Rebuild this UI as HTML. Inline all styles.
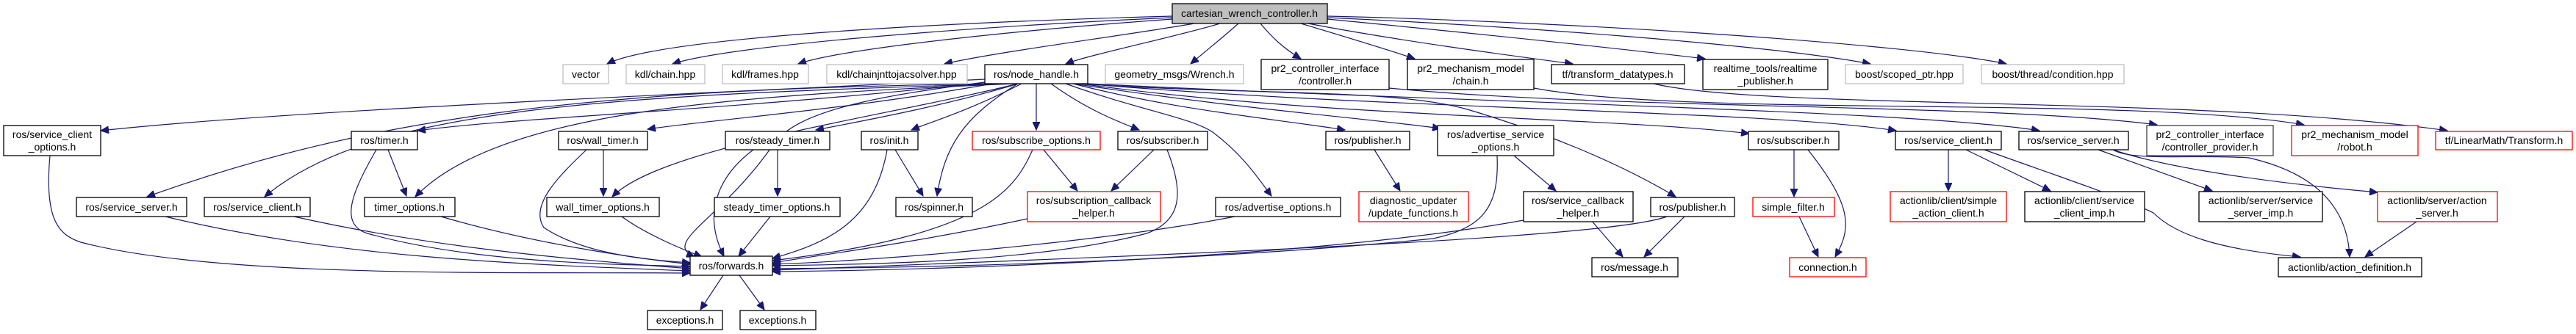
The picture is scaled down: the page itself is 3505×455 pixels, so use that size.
<!DOCTYPE html>
<html><head><meta charset="utf-8"><style>
html,body{margin:0;padding:0;background:#fff;}
svg{display:block;}
text{font-family:"Liberation Sans",sans-serif;font-size:14px;fill:#000;text-anchor:middle;}
.n{fill:#fff;stroke:#000;stroke-width:1.3;}
.g{fill:#fff;stroke:#bfbfbf;stroke-width:1.3;}
.r{fill:#fff;stroke:#ff0000;stroke-width:1.3;}
.root{fill:#bfbfbf;stroke:#000;stroke-width:1.3;}
path.e{fill:none;stroke:#191970;stroke-width:1.2;marker-end:url(#a);}
</style></head><body>
<svg width="3505" height="455" viewBox="0 0 3505 455" xmlns="http://www.w3.org/2000/svg">
<defs><marker id="a" markerUnits="userSpaceOnUse" markerWidth="12" markerHeight="10" refX="11" refY="5" orient="auto"><path d="M0,0 L11,5 L0,10 Z" fill="#191970" stroke="#191970"/></marker></defs>

<!-- edges from root -->
<path class="e" d="M1595,22 C1300,30 900,50 826,87"/>
<path class="e" d="M1595,24 C1350,35 1000,60 915,87"/>
<path class="e" d="M1595,26 C1400,40 1150,65 1086,87"/>
<path class="e" d="M1625,32 C1520,50 1360,70 1285,87"/>
<path class="e" d="M1660,32 C1600,50 1480,75 1450,87"/>
<path class="e" d="M1685,32 C1665,50 1640,70 1620,87"/>
<path class="e" d="M1715,32 C1730,50 1745,65 1770,80"/>
<path class="e" d="M1770,32 C1830,50 1880,65 1925,80"/>
<path class="e" d="M1780,32 C1900,55 2050,75 2140,87"/>
<path class="e" d="M1806,26 C1950,40 2150,60 2320,80"/>
<path class="e" d="M1806,24 C2050,35 2400,60 2545,87"/>
<path class="e" d="M1806,22 C2150,30 2600,60 2730,87"/>

<!-- node_handle edges -->
<path class="e" d="M1340,108 C900,130 400,150 137,178"/>
<path class="e" d="M1345,112 C1000,150 700,160 568,178"/>
<path class="e" d="M1350,114 C1150,150 950,165 881,176"/>
<path class="e" d="M1370,114 C800,120 500,160 200,268"/>
<path class="e" d="M1375,114 C800,130 500,150 360,268"/>
<path class="e" d="M1380,114 C1000,130 680,150 565,268"/>
<path class="e" d="M1385,114 C1200,160 900,200 833,268"/>
<path class="e" d="M1385,114 C1300,140 1200,160 1110,177"/>
<path class="e" d="M1390,114 C1320,150 1270,165 1240,177"/>
<path class="e" d="M1385,114 C1310,160 1285,200 1275,267"/>
<path class="e" d="M1410,114 L1410,177"/>
<path class="e" d="M1430,114 C1480,150 1520,165 1550,177"/>
<path class="e" d="M1450,114 C1550,150 1620,160 1650,180 C1690,210 1710,240 1730,267"/>
<path class="e" d="M1460,114 C1600,150 1720,160 1830,177"/>
<path class="e" d="M1460,114 C1700,150 1850,160 1960,175"/>
<path class="e" d="M1340,112 C1200,130 1080,150 1050,200 C980,300 900,330 945,350"/>
<path class="e" d="M1470,114 C1700,130 1900,120 2000,150 C2100,180 2200,220 2280,268"/>
<path class="e" d="M1470,114 C1800,160 2200,160 2380,182"/>
<path class="e" d="M1475,114 C1900,150 2400,150 2580,178"/>
<path class="e" d="M1480,114 C2000,140 2600,150 2775,178"/>
<!-- from controller/chain/tf -->
<path class="e" d="M1890,120 C2200,150 2700,140 2935,170"/>
<path class="e" d="M2087,120 C2300,160 2900,130 3135,170"/>
<path class="e" d="M2250,114 C2400,150 3000,130 3330,178"/>

<!-- level 2 -> forwards -->
<path class="e" d="M68,212 C60,300 80,320 110,330 C300,380 700,370 939,372"/>
<path class="e" d="M225,295 C450,350 700,360 939,369"/>
<path class="e" d="M400,295 C600,340 800,355 939,366"/>
<path class="e" d="M512,204 C480,260 460,305 500,318 C650,360 850,360 939,363"/>
<path class="e" d="M528,204 L553,267"/>
<path class="e" d="M600,295 C720,330 850,350 939,360"/>
<path class="e" d="M798,204 C760,240 720,280 740,310 C800,350 900,355 939,358"/>
<path class="e" d="M821,204 L821,267"/>
<path class="e" d="M846,295 C880,320 930,340 955,350"/>
<path class="e" d="M1025,204 C990,230 950,280 985,349"/>
<path class="e" d="M1058,204 L1058,267"/>
<path class="e" d="M1048,295 L1005,349"/>
<path class="e" d="M1207,204 C1190,300 1130,330 1051,352"/>
<path class="e" d="M1218,204 L1256,267"/>
<path class="e" d="M1405,204 C1380,260 1340,320 1051,355"/>
<path class="e" d="M1420,204 L1466,260"/>
<path class="e" d="M1570,204 L1512,260"/>
<path class="e" d="M1588,204 C1610,260 1610,300 1560,318 C1400,360 1150,360 1051,362"/>
<path class="e" d="M1398,298 C1250,330 1100,350 1051,358"/>
<path class="e" d="M1680,295 C1500,330 1200,355 1051,360"/>
<path class="e" d="M2037,212 C2040,280 2020,310 1950,325 C1600,360 1200,365 1051,366"/>
<path class="e" d="M2060,212 L2117,260"/>
<path class="e" d="M2073,300 C1800,350 1300,368 1051,370"/>
<path class="e" d="M2165,300 L2208,350"/>
<path class="e" d="M1870,204 L1905,260"/>
<path class="e" d="M2268,295 C2200,320 1800,340 1051,368"/>
<path class="e" d="M2292,295 L2237,350"/>
<path class="e" d="M2441,204 L2441,268"/>
<path class="e" d="M2460,204 C2520,280 2520,310 2497,350"/>
<path class="e" d="M2448,295 L2474,350"/>
<path class="e" d="M2651,204 L2651,260"/>
<path class="e" d="M2675,204 L2790,260"/>
<path class="e" d="M2700,204 C2800,240 2890,270 2930,290 C2960,320 3020,340 3130,350"/>
<path class="e" d="M2855,204 L3010,260"/>
<path class="e" d="M2875,204 C2950,230 3100,250 3235,262"/>
<path class="e" d="M2875,204 C2900,220 2990,210 3060,215 C3170,240 3195,300 3197,350"/>
<path class="e" d="M3288,302 L3218,350"/>
<!-- forwards -> exceptions -->
<path class="e" d="M984,375 L953,422"/>
<path class="e" d="M1006,375 L1040,422"/>

<!-- nodes -->
<rect class="root" x="1595" y="5" width="211" height="27"/><text x="1700" y="23">cartesian_wrench_controller.h</text>
<rect class="g" x="766" y="88" width="62" height="26"/><text x="797" y="106">vector</text>
<rect class="g" x="852" y="88" width="107" height="26"/><text x="905" y="106">kdl/chain.hpp</text>
<rect class="g" x="983" y="88" width="117" height="26"/><text x="1041" y="106">kdl/frames.hpp</text>
<rect class="g" x="1125" y="88" width="191" height="26"/><text x="1220" y="106">kdl/chainjnttojacsolver.hpp</text>
<rect class="n" x="1340" y="88" width="140" height="26"/><text x="1410" y="106">ros/node_handle.h</text>
<rect class="g" x="1504" y="88" width="188" height="26"/><text x="1598" y="106">geometry_msgs/Wrench.h</text>
<rect class="n" x="1716" y="81" width="174" height="41"/><text x="1803" y="98">pr2_controller_interface</text><text x="1803" y="115">/controller.h</text>
<rect class="n" x="1915" y="81" width="172" height="41"/><text x="2001" y="98">pr2_mechanism_model</text><text x="2001" y="115">/chain.h</text>
<rect class="n" x="2111" y="88" width="181" height="26"/><text x="2201" y="106">tf/transform_datatypes.h</text>
<rect class="n" x="2317" y="81" width="170" height="41"/><text x="2402" y="98">realtime_tools/realtime</text><text x="2402" y="115">_publisher.h</text>
<rect class="g" x="2511" y="88" width="160" height="26"/><text x="2591" y="106">boost/scoped_ptr.hpp</text>
<rect class="g" x="2696" y="88" width="194" height="26"/><text x="2793" y="106">boost/thread/condition.hpp</text>

<rect class="n" x="5" y="171" width="132" height="41"/><text x="71" y="188">ros/service_client</text><text x="71" y="205">_options.h</text>
<rect class="n" x="478" y="179" width="90" height="25"/><text x="523" y="196">ros/timer.h</text>
<rect class="n" x="760" y="179" width="121" height="25"/><text x="820" y="196">ros/wall_timer.h</text>
<rect class="n" x="987" y="179" width="142" height="25"/><text x="1058" y="196">ros/steady_timer.h</text>
<rect class="n" x="1172" y="179" width="77" height="25"/><text x="1210" y="196">ros/init.h</text>
<rect class="r" x="1323" y="179" width="174" height="25"/><text x="1410" y="196">ros/subscribe_options.h</text>
<rect class="n" x="1521" y="179" width="122" height="25"/><text x="1582" y="196">ros/subscriber.h</text>
<rect class="n" x="1804" y="179" width="114" height="25"/><text x="1861" y="196">ros/publisher.h</text>
<rect class="n" x="1956" y="171" width="158" height="41"/><text x="2035" y="188">ros/advertise_service</text><text x="2035" y="205">_options.h</text>
<rect class="n" x="2379" y="179" width="123" height="25"/><text x="2440" y="196">ros/subscriber.h</text>
<rect class="n" x="2579" y="179" width="144" height="25"/><text x="2651" y="196">ros/service_client.h</text>
<rect class="n" x="2747" y="179" width="149" height="25"/><text x="2821" y="196">ros/service_server.h</text>
<rect class="n" x="2921" y="171" width="172" height="41" style="stroke:#404040"/><text x="3007" y="188">pr2_controller_interface</text><text x="3007" y="205">/controller_provider.h</text>
<rect class="r" x="3118" y="171" width="172" height="41"/><text x="3204" y="188">pr2_mechanism_model</text><text x="3204" y="205">/robot.h</text>
<rect class="r" x="3314" y="179" width="186" height="25"/><text x="3407" y="196">tf/LinearMath/Transform.h</text>

<rect class="n" x="104" y="269" width="150" height="26"/><text x="179" y="287">ros/service_server.h</text>
<rect class="n" x="278" y="269" width="144" height="26"/><text x="350" y="287">ros/service_client.h</text>
<rect class="n" x="496" y="269" width="123" height="26"/><text x="557" y="287">timer_options.h</text>
<rect class="n" x="744" y="269" width="153" height="26"/><text x="820" y="287">wall_timer_options.h</text>
<rect class="n" x="972" y="269" width="171" height="26"/><text x="1057" y="287">steady_timer_options.h</text>
<rect class="n" x="1219" y="269" width="104" height="26"/><text x="1271" y="287">ros/spinner.h</text>
<rect class="r" x="1398" y="261" width="181" height="41"/><text x="1488" y="278">ros/subscription_callback</text><text x="1488" y="295">_helper.h</text>
<rect class="n" x="1654" y="269" width="170" height="26"/><text x="1739" y="287">ros/advertise_options.h</text>
<rect class="r" x="1849" y="261" width="149" height="41"/><text x="1923" y="278">diagnostic_updater</text><text x="1923" y="295">/update_functions.h</text>
<rect class="n" x="2073" y="261" width="149" height="41"/><text x="2147" y="278">ros/service_callback</text><text x="2147" y="295">_helper.h</text>
<rect class="n" x="2246" y="269" width="114" height="26"/><text x="2303" y="287">ros/publisher.h</text>
<rect class="r" x="2385" y="269" width="111" height="26"/><text x="2440" y="287">simple_filter.h</text>
<rect class="r" x="2572" y="261" width="158" height="41"/><text x="2651" y="278">actionlib/client/simple</text><text x="2651" y="295">_action_client.h</text>
<rect class="n" x="2755" y="261" width="163" height="41"/><text x="2836" y="278">actionlib/client/service</text><text x="2836" y="295">_client_imp.h</text>
<rect class="n" x="2992" y="261" width="168" height="41"/><text x="3076" y="278">actionlib/server/service</text><text x="3076" y="295">_server_imp.h</text>
<rect class="r" x="3235" y="261" width="163" height="41"/><text x="3316" y="278">actionlib/server/action</text><text x="3316" y="295">_server.h</text>

<rect class="n" x="939" y="349" width="112" height="26"/><text x="995" y="367">ros/forwards.h</text>
<rect class="n" x="2166" y="351" width="117" height="26"/><text x="2224" y="369">ros/message.h</text>
<rect class="r" x="2435" y="351" width="104" height="26"/><text x="2487" y="369">connection.h</text>
<rect class="n" x="3100" y="351" width="195" height="26"/><text x="3197" y="369">actionlib/action_definition.h</text>
<rect class="n" x="881" y="423" width="102" height="26"/><text x="932" y="441">exceptions.h</text>
<rect class="n" x="1007" y="423" width="103" height="26"/><text x="1058" y="441">exceptions.h</text>
</svg>
</body></html>
